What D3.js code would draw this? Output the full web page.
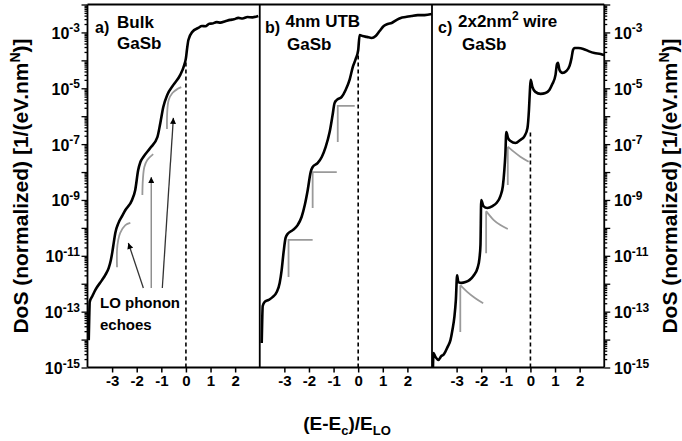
<!DOCTYPE html>
<html>
<head>
<meta charset="utf-8">
<script src="https://cdn.jsdelivr.net/npm/d3@7"></script>
<style>
  html, body { margin: 0; padding: 0; background: #fff; }
  svg { display: block; font-family: "Liberation Sans", Arial, Helvetica, sans-serif; font-weight: bold; }
</style>
</head>
<body>
<svg id="chart" width="682" height="441"></svg>
<script>
// Energy axis ticks, in units of the LO phonon energy
const energyTicks = [-3, -2, -1, 0, 1, 2];
// Decades (log10 of DoS) that carry a printed label
const labelledDecades = [-15, -13, -11, -9, -7, -5, -3];

// Panel headings
const panelTags = ["a)", "b)", "c)"];
const materialName = "GaSb";

// Density of states curves: [ (E-Ec)/ELO , log10 DoS ]
const bulkDos = [
  [-3.95, -14.02], [-3.93, -13.23], [-3.91, -12.65], [-3.80, -12.44], [-3.68, -12.22],
  [-3.41, -11.87], [-3.28, -11.69], [-3.14, -11.44], [-3.05, -11.15], [-2.99, -10.86],
  [-2.93, -10.51], [-2.87, -10.18], [-2.74, -9.82], [-2.59, -9.57], [-2.46, -9.36],
  [-2.19, -9.00], [-2.06, -8.64], [-1.94, -7.93], [-1.85, -7.64], [-1.73, -7.46],
  [-1.45, -7.14], [-1.16, -6.75], [-1.04, -6.24], [-0.92, -5.67], [-0.76, -5.24],
  [-0.51, -4.88], [-0.23, -4.52], [-0.07, -4.17], [0.00, -3.92], [0.04, -3.63],
  [0.10, -3.27], [0.26, -2.98], [0.50, -2.84], [0.65, -2.77], [0.79, -2.78],
  [0.95, -2.69], [1.07, -2.68], [1.25, -2.63], [1.40, -2.65], [1.60, -2.60],
  [1.80, -2.55], [1.95, -2.53], [2.13, -2.48], [2.30, -2.50], [2.50, -2.45],
  [2.70, -2.46], [2.94, -2.41]
];
const utbDos = [
  [-3.92, -14.12], [-3.90, -13.30], [-3.88, -12.80], [-3.80, -12.65], [-3.64, -12.58],
  [-3.48, -12.48], [-3.31, -12.30], [-3.19, -11.97], [-3.11, -11.51], [-3.03, -10.86],
  [-2.95, -10.36], [-2.87, -10.22], [-2.66, -10.08], [-2.46, -9.90], [-2.30, -9.61],
  [-2.17, -9.18], [-2.05, -8.64], [-1.93, -8.00], [-1.85, -7.82], [-1.65, -7.68],
  [-1.48, -7.46], [-1.32, -7.10], [-1.16, -6.57], [-1.04, -5.96], [-0.96, -5.53],
  [-0.87, -5.42], [-0.67, -5.31], [-0.51, -5.06], [-0.35, -4.70], [-0.22, -4.24],
  [-0.10, -3.95], [0.00, -3.64], [0.06, -3.09], [0.18, -3.13], [0.35, -3.16],
  [0.55, -3.20], [0.71, -3.13], [0.87, -2.95], [1.04, -2.77], [1.20, -2.70],
  [1.36, -2.66], [1.57, -2.55], [1.73, -2.48], [1.93, -2.45], [2.17, -2.41],
  [2.42, -2.38], [2.70, -2.38], [2.99, -2.34]
];
const wireDos = [
  [-3.96, -14.98], [-3.94, -14.48], [-3.86, -14.62], [-3.74, -14.73], [-3.62, -14.59],
  [-3.54, -14.55], [-3.46, -14.44], [-3.37, -14.27], [-3.25, -14.02], [-3.17, -13.66],
  [-3.09, -13.19], [-3.03, -12.58], [-2.98, -11.70], [-2.93, -11.94], [-2.80, -11.97],
  [-2.64, -11.94], [-2.48, -11.87], [-2.32, -11.72], [-2.15, -11.44], [-2.07, -11.08],
  [-2.03, -10.61], [-2.00, -9.00], [-1.91, -9.22], [-1.75, -9.29], [-1.54, -9.22],
  [-1.38, -9.11], [-1.22, -8.86], [-1.12, -8.50], [-1.06, -7.93], [-1.02, -7.39],
  [-0.98, -6.57], [-0.91, -6.78], [-0.81, -6.89], [-0.61, -6.96], [-0.41, -6.85],
  [-0.24, -6.71], [-0.12, -6.42], [-0.06, -5.78], [-0.02, -5.06], [0.01, -4.70],
  [0.08, -4.95], [0.20, -5.13], [0.41, -5.20], [0.61, -5.17], [0.77, -5.06],
  [0.89, -4.85], [1.02, -4.52], [1.08, -4.13], [1.12, -4.09], [1.18, -4.34],
  [1.30, -4.45], [1.46, -4.38], [1.59, -4.20], [1.67, -3.92], [1.73, -3.63],
  [1.79, -3.56], [1.95, -3.56], [2.15, -3.59], [2.36, -3.67], [2.60, -3.74],
  [2.85, -3.77], [3.00, -3.81]
];

// LO phonon replica curves (grey)
const bulkEchoes = [
  [[-2.80, -11.41], [-2.80, -10.79], [-2.75, -10.43], [-2.67, -10.18], [-2.46, -9.90], [-2.26, -9.82]],
  [[-1.77, -8.82], [-1.75, -8.28], [-1.69, -7.82], [-1.57, -7.57], [-1.33, -7.36]],
  [[-0.77, -6.46], [-0.76, -5.85], [-0.70, -5.42], [-0.55, -5.17], [-0.35, -5.03], [-0.19, -4.96]]
];
const utbEchoes = [
  [[-2.83, -11.76], [-2.83, -10.43], [-1.85, -10.43]],
  [[-1.85, -9.29], [-1.85, -8.00], [-0.87, -8.00]],
  [[-0.83, -6.92], [-0.83, -5.63], [-0.14, -5.63]]
];
const wireEchoes = [
  [[-2.85, -13.73], [-2.85, -12.05], [-2.57, -12.29], [-2.24, -12.52], [-1.92, -12.70]],
  [[-1.80, -10.91], [-1.80, -9.40], [-1.49, -9.72], [-1.22, -9.90], [-0.92, -10.04]],
  [[-0.92, -8.46], [-0.92, -7.09], [-0.68, -7.27], [-0.41, -7.45], [-0.07, -7.63]]
];

// Upper end (log10 DoS) of the dashed E = Ec marker in each panel
const bandEdgeTop = [-3.92, -3.63, -6.57];

// Arrows pointing at the echoes in the bulk panel: [from, to]
const echoArrows = [
  [[-1.73, -12.15], [-2.34, -10.54]],
  [[-1.41, -12.15], [-1.41, -8.18]],
  [[-0.96, -12.15], [-0.51, -6.06]]
];

// ---------------------------------------------------------------- layout
const plotLeft = 87.5, panelW = 172.25;
const plotTop = 4.5, plotBottom = 367.5;
const black = "#000", grey = "#9a9a9a";

const svg = d3.select("#chart");
const y = d3.scaleLog().domain([1e-15, 1e-2]).range([plotBottom, plotTop]);
const xs = [0, 1, 2].map(i =>
  d3.scaleLinear().domain([-4, 3]).range([plotLeft + i * panelW, plotLeft + (i + 1) * panelW]));

const toVal = e => Math.pow(10, e);

const defs = svg.append("defs");
defs.append("marker")
  .attr("id", "head").attr("viewBox", "0 0 10 10")
  .attr("refX", 10).attr("refY", 5)
  .attr("markerWidth", 8).attr("markerHeight", 6)
  .attr("markerUnits", "userSpaceOnUse")
  .attr("orient", "auto")
  .append("path").attr("d", "M0,0L10,5L0,10Z").attr("fill", "#000");

xs.forEach((x, i) => {
  defs.append("clipPath").attr("id", "clip" + i)
    .append("rect")
    .attr("x", x.range()[0]).attr("y", plotTop)
    .attr("width", panelW).attr("height", plotBottom - plotTop);
});

const dosSets = [bulkDos, utbDos, wireDos];
const echoSets = [bulkEchoes, utbEchoes, wireEchoes];

xs.forEach((x, i) => {
  const g = svg.append("g").attr("clip-path", `url(#clip${i})`);

  // dashed band edge
  g.append("line")
    .attr("x1", x(0)).attr("x2", x(0))
    .attr("y1", y(1e-15)).attr("y2", y(toVal(bandEdgeTop[i])))
    .attr("stroke", black).attr("stroke-width", 1.6)
    .attr("stroke-dasharray", "4,3");

  // grey echoes
  echoSets[i].forEach(pts => {
    let d;
    if (i === 0) {
      d = d3.line().curve(d3.curveCatmullRom.alpha(0.5))
        .x(p => x(p[0])).y(p => y(toVal(p[1])))(pts);
    } else if (i === 1) {
      d = d3.line().x(p => x(p[0])).y(p => y(toVal(p[1])))(pts);
    } else {
      const stem = d3.line().x(p => x(p[0])).y(p => y(toVal(p[1])))(pts.slice(0, 2));
      const tail = d3.line().curve(d3.curveMonotoneX)
        .x(p => x(p[0])).y(p => y(toVal(p[1])))(pts.slice(1));
      d = stem + tail;
    }
    g.append("path").attr("d", d)
      .attr("fill", "none").attr("stroke", grey)
      .attr("stroke-width", 1.8).attr("stroke-linejoin", "miter");
  });

  // DoS curve
  g.append("path")
    .attr("d", d3.line().curve(d3.curveMonotoneX)
      .x(p => x(p[0])).y(p => y(toVal(p[1])))(dosSets[i]))
    .attr("fill", "none").attr("stroke", black)
    .attr("stroke-width", 2.6).attr("stroke-linejoin", "round");
});

// arrows in the bulk panel
echoArrows.forEach((a, k) => {
  svg.append("line")
    .attr("x1", xs[0](a[0][0])).attr("y1", y(toVal(a[0][1])))
    .attr("x2", xs[0](a[1][0])).attr("y2", y(toVal(a[1][1])))
    .attr("stroke", k === 1 ? "#808080" : "#333")
    .attr("stroke-width", 1.3)
    .attr("marker-end", "url(#head)");
});

// annotation
const note = svg.append("text").attr("font-size", 15).attr("fill", "#000");
note.append("tspan").attr("x", 100).attr("y", 308).text("LO phonon");
note.append("tspan").attr("x", 100).attr("y", 330).text("echoes");

// ---------------------------------------------------------------- axes
const fmtE = d => (d < 0 ? "-" + Math.abs(d) : String(d));
xs.forEach(x => {
  const ax = svg.append("g").attr("transform", `translate(0,${plotBottom})`)
    .call(d3.axisBottom(x).tickValues(energyTicks).tickSize(5).tickPadding(3).tickFormat(fmtE));
  ax.select(".domain").remove();
  ax.selectAll("line").attr("stroke", black).attr("stroke-width", 1.5);
  ax.selectAll("text").attr("font-size", 15).attr("font-family", null).attr("fill", black);
});

const majors = d3.range(-15, -1).map(toVal);
const minors = [];
d3.range(-15, -2).forEach(e => d3.range(2, 10).forEach(k => minors.push(k * toVal(e))));

function yAxis(gen, xPos) {
  [[majors, 6], [minors, 3]].forEach(([vals, len]) => {
    const ax = svg.append("g").attr("transform", `translate(${xPos},0)`)
      .call(gen(y).tickValues(vals).tickSize(len).tickFormat(""));
    ax.select(".domain").remove();
    ax.selectAll("line").attr("stroke", black).attr("stroke-width", 1.3);
  });
}
yAxis(d3.axisLeft, plotLeft);
yAxis(d3.axisRight, plotLeft + 3 * panelW);

function decadeLabel(xPos, anchor, e) {
  const t = svg.append("text")
    .attr("x", xPos).attr("y", y(toVal(e)) + 6.5)
    .attr("text-anchor", anchor).attr("font-size", 16).attr("fill", black);
  t.append("tspan").text("10");
  t.append("tspan").attr("dy", -6.5).attr("font-size", 12).text(String(e));
}
labelledDecades.forEach(e => {
  decadeLabel(80, "end", e);
  decadeLabel(614, "start", e);
});

// frame
const frame = svg.append("g").attr("stroke", black).attr("stroke-width", 1.8).attr("fill", "none");
frame.append("line").attr("x1", plotLeft).attr("x2", plotLeft + 3 * panelW)
  .attr("y1", plotTop).attr("y2", plotTop);
frame.append("line").attr("x1", plotLeft).attr("x2", plotLeft + 3 * panelW)
  .attr("y1", plotBottom).attr("y2", plotBottom);
[0, 1, 2, 3].forEach(i => {
  frame.append("line")
    .attr("x1", plotLeft + i * panelW).attr("x2", plotLeft + i * panelW)
    .attr("y1", plotTop).attr("y2", plotBottom);
});

// axis titles
function dosTitle(xPos) {
  const t = svg.append("text")
    .attr("transform", `translate(${xPos},186) rotate(-90)`)
    .attr("text-anchor", "middle").attr("font-size", 21).attr("fill", black);
  t.append("tspan").text("DoS (normalized) [1/(eV.nm");
  t.append("tspan").attr("dy", -8).attr("font-size", 14).text("N");
  t.append("tspan").attr("dy", 8).text(")]");
}
dosTitle(28);
dosTitle(676.5);

const xt = svg.append("text").attr("x", 347).attr("y", 430)
  .attr("text-anchor", "middle").attr("font-size", 19).attr("fill", black);
xt.append("tspan").text("(E-E");
xt.append("tspan").attr("dy", 5).attr("font-size", 13).text("c");
xt.append("tspan").attr("dy", -5).text(")/E");
xt.append("tspan").attr("dy", 5).attr("font-size", 13).text("LO");

// panel headings
const headingPos = [
  { tag: [95, 33], title: [117, 28], mat: [117, 49] },
  { tag: [265, 33], title: [285.5, 27], mat: [287, 50] },
  { tag: [438, 33], title: [458, 27], mat: [462, 50] }
];
headingPos.forEach((p, i) => {
  svg.append("text").attr("x", p.tag[0]).attr("y", p.tag[1])
    .attr("font-size", 16).text(panelTags[i]);
  const t = svg.append("text").attr("x", p.title[0]).attr("y", p.title[1]).attr("font-size", 17);
  if (i === 0) t.text("Bulk");
  else if (i === 1) t.text("4nm UTB");
  else {
    t.append("tspan").text("2x2nm");
    t.append("tspan").attr("dy", -7).attr("font-size", 12).text("2");
    t.append("tspan").attr("dy", 7).text(" wire");
  }
  svg.append("text").attr("x", p.mat[0]).attr("y", p.mat[1])
    .attr("font-size", 17).text(materialName);
});
</script>
</body>
</html>
